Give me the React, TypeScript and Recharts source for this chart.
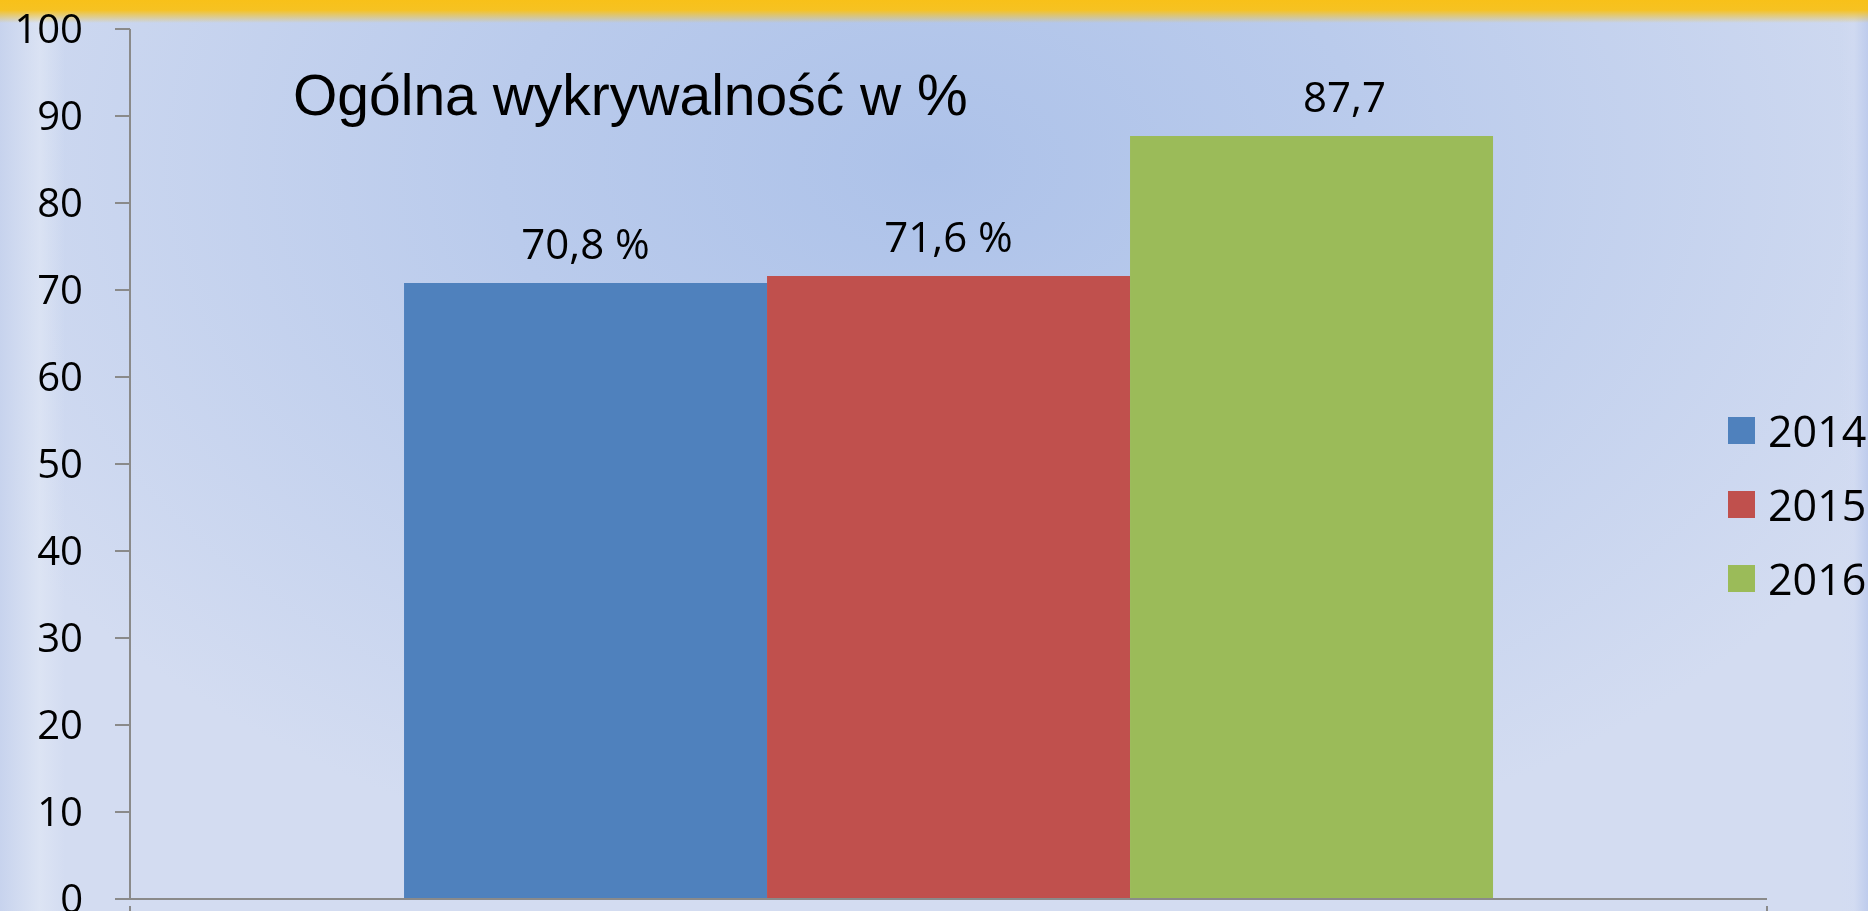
import React from 'react';
import { BarChart, Bar, XAxis, YAxis, Legend, LabelList } from 'recharts';

// one category, three yearly series
const years = ['2014', '2015', '2016'];
const values = [70.8, 71.6, 87.7];
const valueLabels = ['70,8 %', '71,6 %', '87,7'];
const colors = ['#4f81bd', '#c0504d', '#9bbb59'];
const yTicks = [0, 10, 20, 30, 40, 50, 60, 70, 80, 90, 100];
const title = 'Ogólna wykrywalność w %';

const row: Record<string, number | string> = { name: '' };
years.forEach((y, i) => {
  row['y' + y] = values[i];
});
const data = [row];

const axisColor = '#8a8a8a';

const makeLabel = (text: string, shift: number) => (props: any) => {
  const { x, y, width } = props;
  return (
    <text
      x={Number(x) + Number(width) / 2 + shift}
      y={Number(y) - 24}
      textAnchor="middle"
      fill="#000"
      fontSize={42}
      fontFamily="'Open Sans', sans-serif"
    >
      {text}
    </text>
  );
};

// tick marks on the category boundaries (Excel style)
const EdgeTicks = (props: any) => {
  const { x, y, payload } = props;
  const half = payload && payload.offset ? payload.offset : 0;
  return (
    <g>
      <line x1={x - half} x2={x - half} y1={y - 1} y2={y + 13} stroke={axisColor} strokeWidth={2} />
      <line x1={x + half} x2={x + half} y1={y - 1} y2={y + 13} stroke={axisColor} strokeWidth={2} />
    </g>
  );
};

const LegendBox = (props: any) => {
  const items = props.payload || [];
  return (
    <div style={{ fontFamily: "'Open Sans', sans-serif", fontSize: 43, color: '#000', textAlign: 'left' }}>
      {items.map((it: any) => (
        <div key={it.value} style={{ display: 'flex', alignItems: 'center', height: 74 }}>
          <span style={{ width: 27, height: 27, background: it.color, marginRight: 13, display: 'inline-block' }} />
          <span style={{ lineHeight: 1 }}>{it.value}</span>
        </div>
      ))}
    </div>
  );
};

export default function App() {
  return (
    <div
      style={{
        position: 'fixed',
        left: 0,
        top: 0,
        width: 1868,
        height: 911,
        overflow: 'hidden',
        background: [
          'linear-gradient(to bottom, #f8c119 0px, #f6c222 10px, rgba(240,200,80,0) 23px)',
          'linear-gradient(to right, rgba(198,210,237,0.9) 0px, rgba(224,231,245,0.7) 40px, rgba(224,231,245,0) 65px)',
          'linear-gradient(to left, rgba(188,202,236,0.9) 0px, rgba(210,219,242,0.5) 14px, rgba(210,219,242,0) 28px)',
          'radial-gradient(ellipse 58% 80% at 50% 18%, #adc2e9 0%, #bacbec 40%, #d3dcf1 100%)',
        ].join(', '),
      }}
    >
      <div
        style={{
          position: 'absolute',
          left: 293,
          top: 67,
          fontFamily: "'Liberation Sans', Arial, sans-serif",
          fontSize: 57,
          lineHeight: 1,
          color: '#000',
          whiteSpace: 'nowrap',
          zIndex: 2,
        }}
      >
        {title}
      </div>
      <BarChart
        width={1868}
        height={911}
        data={data}
        margin={{ top: 29, right: 101, left: 0, bottom: 0 }}
        barCategoryGap="16.74%"
        barGap={0}
      >
        <XAxis
          dataKey="name"
          height={12}
          tickLine={false}
          tick={<EdgeTicks />}
          stroke={axisColor}
          strokeWidth={2}
        />
        <YAxis
          domain={[0, 100]}
          ticks={yTicks}
          interval={0}
          width={130}
          tickSize={15}
          tickMargin={32}
          stroke={axisColor}
          strokeWidth={2}
          tick={{ fill: '#000', fontSize: 40, fontFamily: "'Open Sans', sans-serif" }}
        />
        <Legend
          layout="horizontal"
          verticalAlign="middle"
          align="center"
          content={<LegendBox />}
          wrapperStyle={{ left: 1728, top: 393, width: 140 }}
        />
        {years.map((y, i) => (
          <Bar key={y} dataKey={'y' + y} name={y} fill={colors[i]} isAnimationActive={false}>
            <LabelList dataKey={'y' + y} content={makeLabel(valueLabels[i], i === 2 ? 33 : 0)} />
          </Bar>
        ))}
      </BarChart>
    </div>
  );
}
